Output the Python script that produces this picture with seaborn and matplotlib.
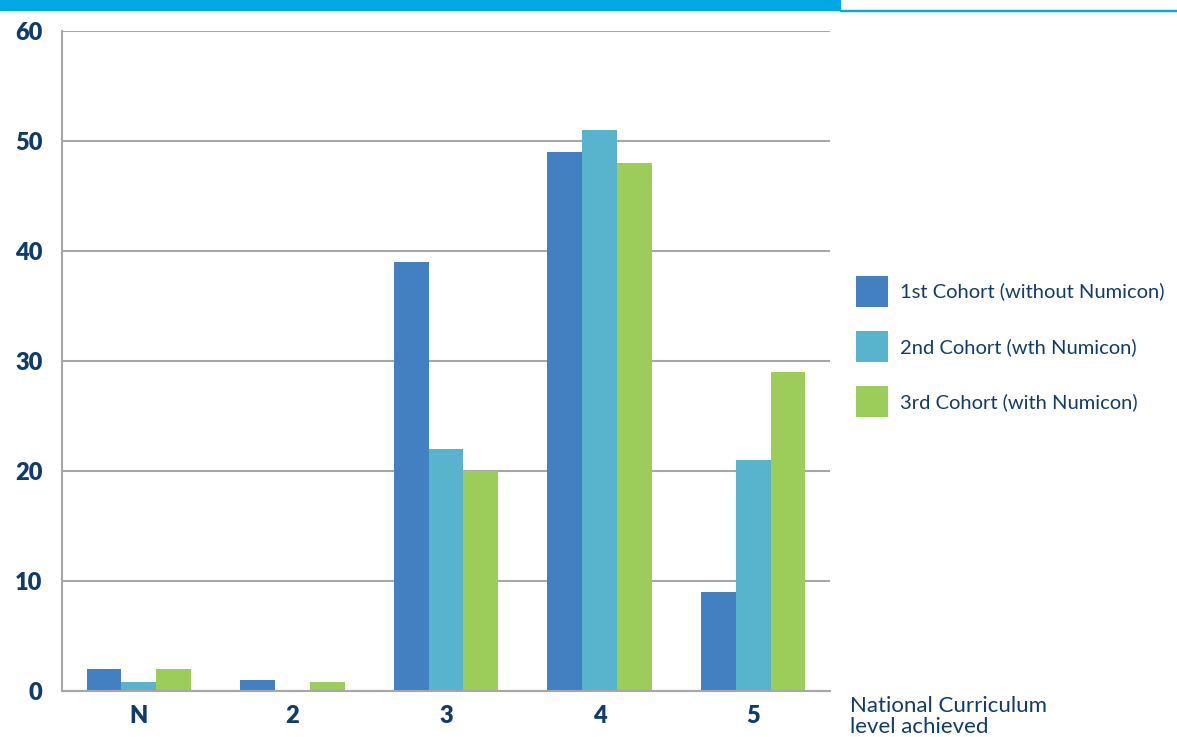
import pandas as pd
import numpy as np
import seaborn as sns
import matplotlib
import matplotlib.pyplot as plt
from matplotlib.patches import Rectangle

matplotlib.use('Agg')

#%% data
levels = ["N", "2", "3", "4", "5"]
cohorts = ["1st Cohort (without Numicon)",
           "2nd Cohort (wth Numicon)",
           "3rd Cohort (with Numicon)"]
cohort1 = [2, 1, 39, 49, 9]
cohort2 = [0.8, 0, 22, 51, 21]
cohort3 = [2, 0.8, 20, 48, 29]

colors_palette = ["#4280c2", "#58b4cc", "#9ccd5a"]
navy = "#0f3c6a"

df = pd.DataFrame({
    "level": levels * 3,
    "cohort": [c for c in cohorts for _ in levels],
    "value": cohort1 + cohort2 + cohort3,
})

#%% plot
sns.set_style("white")
plt.rcParams['font.family'] = ['Lato', 'DejaVu Sans']

fig = plt.figure(figsize=(11.77, 7.37), dpi=100)
ax = fig.add_axes([0.0527, 0.0624, 0.6525, 0.8955])

bar = sns.barplot(data=df, x="level", y="value", hue="cohort",
                  hue_order=cohorts, order=levels,
                  palette=colors_palette, width=0.68, saturation=1,
                  edgecolor="none", ax=ax, legend=True)

ax.set_ylim(0, 60)
ax.set_xlim(-0.5, 4.5)
ax.set_yticks(np.arange(0, 61, 10))
ax.yaxis.grid(True, color="#a6a6a6", linewidth=1.5)
ax.set_axisbelow(True)

for side in ["top", "right"]:
    ax.spines[side].set_visible(False)
for side in ["left", "bottom"]:
    ax.spines[side].set_color("#a6a6a6")
    ax.spines[side].set_linewidth(1.5)

# ticks at category boundaries on x
ax.set_xticks(np.arange(-0.5, 5, 1), minor=True)
ax.tick_params(axis="x", which="minor", length=8, width=1.5,
               color="#a6a6a6", direction="out")
ax.tick_params(axis="x", which="major", length=0, pad=10,
               labelsize=17, labelcolor=navy)
ax.tick_params(axis="y", length=8, width=1.5, color="#a6a6a6",
               labelsize=17, labelcolor=navy, pad=6)
for lab in ax.get_xticklabels() + ax.get_yticklabels():
    lab.set_fontweight("heavy")

ax.set_xlabel("")
ax.set_ylabel("")

leg = ax.legend(loc="center left", bbox_to_anchor=(0.712, 0.53),
                bbox_transform=fig.transFigure, frameon=False,
                fontsize=14.5, handlelength=1.6, handleheight=2.0,
                labelspacing=1.2, handletextpad=0.6)
for t in leg.get_texts():
    t.set_color(navy)
    t.set_fontstretch("condensed")

fig.text(0.722, 0.0, "National Curriculum\nlevel achieved",
         fontsize=16, color=navy, ha="left", va="bottom",
         linespacing=1.05)

# header band
fig.patches.append(Rectangle((0, 0.986), 0.714, 0.014,
                             transform=fig.transFigure,
                             color="#00a9e6", zorder=5))
fig.patches.append(Rectangle((0.714, 0.985), 0.286, 0.002,
                             transform=fig.transFigure,
                             color="#00a9e6", zorder=5))

fig.savefig("out.png", dpi=100)
